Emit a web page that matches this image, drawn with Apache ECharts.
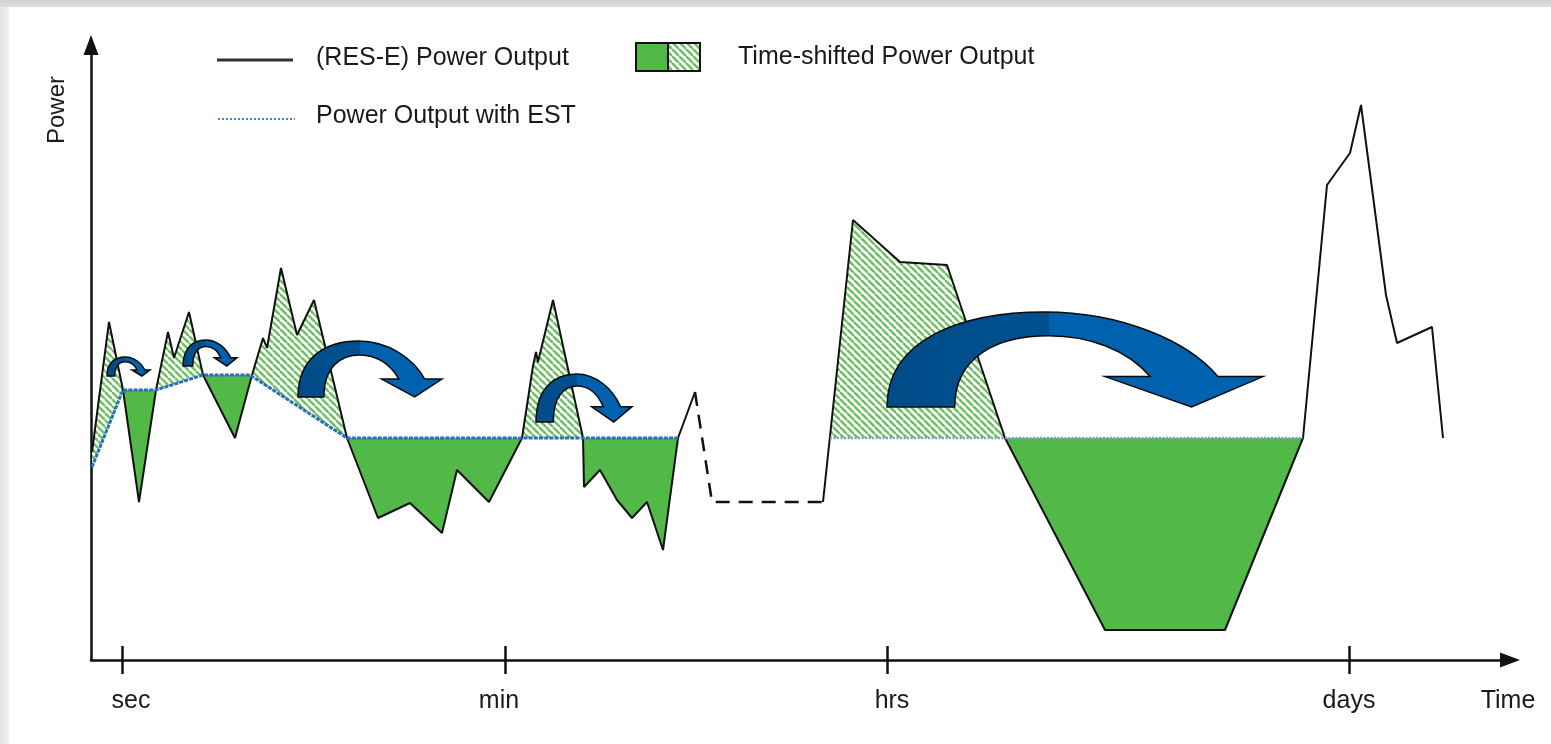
<!DOCTYPE html>
<html>
<head>
<meta charset="utf-8">
<script src="https://cdn.jsdelivr.net/npm/echarts@6/dist/echarts.min.js"></script>
<style>
html,body{margin:0;padding:0;background:#fff;}
#chart{width:1551px;height:744px;}
</style>
</head>
<body>
<div id="chart"></div>
<script>
// ---------- data (x = time units, y = power units) ----------
const resSolidA = [[1,208],[18,338],[32,270],[48,158],[65,270],[77,328],[83,302],[98,348],[112,285],[144,222],[161,285],[172,322],[176,312],[190,392],[206,325],[223,360],[256,222],[287,142],[319,157],[351,127],[366,190],[398,158],[431,222],[442,294],[445,308],[447,298],[462,360],[492,222],[493,173],[509,190],[526,160],[541,142],[556,158],[572,110],[587,222],[604,268]];
const resDashed = [[604,268],[621,158],[732,158]];
const resSolidC = [[732,158],[762,440],[809,398],[856,395],[914,222],[1014,30],[1134,30],[1212,222],[1236,475],[1259,507],[1270,555],[1295,365],[1306,317],[1341,333],[1352,222]];
const estPart1 = [[1,193],[32,270],[65,270],[112,285],[159,285],[256,222],[587,222]];
const estPart2 = [[739,222],[1212,222]];
// curved arrows: [xLeft, xRight, yBottom, yTop]
const arrowBoxes = [[16,59,284,303],[92,146,294,320],[207,351,263,319],[445,541,238,286],[796,1172,253,348]];
const tickValues = [31,414,796,1258];
const labelValues = [40,408,801,1258];
const labelNames = ['sec','min','hrs','days'];
const legendNames = ['(RES-E) Power Output','Power Output with EST','Time-shifted Power Output'];

// ---------- helpers ----------
const FONT = "'Liberation Sans', Arial, sans-serif";
const GREEN = '#52b848';
const pc = document.createElement('canvas'); pc.width = 7; pc.height = 7;
(function(){const g = pc.getContext('2d'); g.fillStyle = '#fff'; g.fillRect(0,0,7,7);
 g.strokeStyle = '#6cc062'; g.lineWidth = 2.4;
 [-7,0,7].forEach(o=>{g.beginPath(); g.moveTo(o,0); g.lineTo(o+7,7); g.stroke();});})();
const HATCH = {image: pc, repeat: 'repeat'};

const resAll = resSolidA.concat(resDashed.slice(1), resSolidC.slice(1));
function interp(pts, x){
  for (let i=0;i<pts.length-1;i++){const a=pts[i], b=pts[i+1];
    if (x>=a[0] && x<=b[0]) return b[0]===a[0] ? a[1] : a[1]+(b[1]-a[1])*(x-a[0])/(b[0]-a[0]);}
  return null;
}
function buildFills(black, est){
  const x0 = est[0][0], x1 = est[est.length-1][0];
  let xs = black.map(p=>p[0]).concat(est.map(p=>p[0])).filter(x=>x>=x0 && x<=x1);
  xs = Array.from(new Set(xs)).sort((a,b)=>a-b);
  const d = x => interp(black,x) - interp(est,x);
  const full = [xs[0]];
  for (let i=1;i<xs.length;i++){const xa=xs[i-1], xb=xs[i], da=d(xa), db=d(xb);
    if (da*db<0) full.push(xa+(xb-xa)*da/(da-db)); full.push(xb);}
  const runs = []; let cur = null;
  for (let i=0;i<full.length-1;i++){const xa=full[i], xb=full[i+1];
    const s = Math.sign(d((xa+xb)/2));
    if (s===0){cur=null; continue;}
    if (cur && cur.s===s) cur.xs.push(xb); else {cur={s:s, xs:[xa,xb]}; runs.push(cur);} }
  return runs.map(r=>({above: r.s>0,
    points: r.xs.map(x=>[x, interp(black,x)]).concat(r.xs.slice().reverse().map(x=>[x, interp(est,x)]))}));
}
const fills = buildFills(resAll, estPart1).concat(buildFills(resAll, estPart2));

// normalized curved arrow outline (u: 0..1 left->right, v: 0..1 bottom->top)
const arrowPath = [
  ['M',[0,0]],
  ['C',[0,0.72],[0.2,1.0],[0.42,1.0]],
  ['C',[0.62,1.0],[0.8,0.7],[0.88,0.32]],
  ['L',[1.0,0.32]],['L',[0.81,0]],['L',[0.58,0.32]],['L',[0.70,0.32]],
  ['C',[0.64,0.6],[0.54,0.75],[0.43,0.75]],
  ['C',[0.30,0.75],[0.18,0.55],[0.18,0]],
  ['Z']
];

const chart = echarts.init(document.getElementById('chart'), null, {renderer:'canvas'});
const option = {
  backgroundColor: '#fff',
  animation: false,
  grid: [
    {left: 91, right: 41, top: 45, bottom: 84},
    {left: 91, right: 41, top: 45, bottom: 84}
  ],
  xAxis: [
    {type:'value', gridIndex:0, min:0, max:1419,
     name:'Time', nameLocation:'end', nameGap:-2,
     nameTextStyle:{fontFamily:FONT, fontSize:25, color:'#1a1a1a', align:'center', verticalAlign:'top', padding:[29,0,0,0]},
     axisLine:{show:true, onZero:false, symbol:['none','triangle'], symbolSize:[15,20], lineStyle:{color:'#111', width:2.5}},
     axisTick:{show:false}, splitLine:{show:false},
     axisLabel:{show:true, customValues: labelValues, margin: 29, fontFamily:FONT, fontSize:25, color:'#1a1a1a',
       formatter: v => labelNames[labelValues.indexOf(v)] || ''}},
    {type:'value', gridIndex:1, min:0, max:1419, offset:-14,
     axisLine:{show:false, onZero:false}, splitLine:{show:false}, axisLabel:{show:false},
     axisTick:{show:true, customValues: tickValues, length:28, inside:false, lineStyle:{color:'#111', width:2.5}}}
  ],
  yAxis: [
    {type:'value', gridIndex:0, min:0, max:615,
     axisLine:{show:true, onZero:false, symbol:['none','triangle'], symbolSize:[15,20], lineStyle:{color:'#111', width:2.5}},
     axisTick:{show:false}, axisLabel:{show:false}, splitLine:{show:false}},
    {type:'value', gridIndex:1, min:0, max:615, show:false}
  ],
  graphic: [
    {type:'rect', shape:{x:0,y:0,width:1551,height:7}, style:{fill:{type:'linear',x:0,y:0,x2:0,y2:1,colorStops:[{offset:0,color:'#d2d2d2'},{offset:1,color:'#dcdcdc'}]}}, silent:true},
    {type:'rect', shape:{x:0,y:7,width:9,height:737}, style:{fill:{type:'linear',x:0,y:0,x2:1,y2:0,colorStops:[{offset:0,color:'#e4e4e4'},{offset:1,color:'#f0f0f0'}]}}, silent:true},
    {type:'line', shape:{x1:217,y1:60,x2:293,y2:60}, style:{stroke:'#333', lineWidth:3}},
    {type:'text', x:316, y:58, style:{text:legendNames[0], font:'25px '+FONT, fill:'#1a1a1a', verticalAlign:'middle'}},
    {type:'line', shape:{x1:218,y1:119,x2:295,y2:119}, style:{stroke:'#3f82d2', lineWidth:2, lineDash:[2,2]}},
    {type:'text', x:316, y:116, style:{text:legendNames[1], font:'25px '+FONT, fill:'#1a1a1a', verticalAlign:'middle'}},
    {type:'rect', shape:{x:636,y:43,width:32,height:28}, style:{fill:GREEN, stroke:'#111', lineWidth:2}},
    {type:'rect', shape:{x:668,y:43,width:32,height:28}, style:{fill:HATCH, stroke:'#111', lineWidth:2}},
    {type:'text', x:738, y:57, style:{text:legendNames[2], font:'25px '+FONT, fill:'#1a1a1a', verticalAlign:'middle'}},
    {type:'text', x:57, y:110, rotation:Math.PI/2, style:{text:'Power', font:'24px '+FONT, fill:'#1a1a1a', align:'center', verticalAlign:'middle'}}
  ],
  series: [
    {type:'custom', name:'Time-shifted Power Output', z:1, xAxisIndex:0, yAxisIndex:0,
     data: fills.map(f=>f.points[0]),
     renderItem: function(params, api){
       const f = fills[params.dataIndex];
       return {type:'polygon', shape:{points: f.points.map(p=>api.coord(p))},
               style:{fill: f.above ? HATCH : GREEN, stroke:'none'}};
     }},
    {type:'line', name:legendNames[0], z:3, data:resSolidA, showSymbol:false, lineStyle:{color:'#111', width:2}},
    {type:'line', name:legendNames[0]+' (gap)', z:3, data:resDashed, showSymbol:false, lineStyle:{color:'#111', width:2.5, type:[14,9]}},
    {type:'line', name:legendNames[0]+' ', z:3, data:resSolidC, showSymbol:false, lineStyle:{color:'#111', width:2}},
    {type:'line', name:legendNames[1], z:4, data:estPart1, showSymbol:false, lineStyle:{color:'#2a6fbe', width:3, type:[4,1.2]}},
    {type:'line', name:legendNames[1]+' ', z:4, data:estPart2, showSymbol:false, lineStyle:{color:'#7a9fd8', width:2.5, type:[2,1.5]}},
    {type:'custom', name:'arrows', z:5, xAxisIndex:0, yAxisIndex:0,
     data: arrowBoxes.map(b=>[b[0],b[2]]),
     renderItem: function(params, api){
       const b = arrowBoxes[params.dataIndex];
       const P = q => { const c = api.coord([b[0]+q[0]*(b[1]-b[0]), b[2]+q[1]*(b[3]-b[2])]); return c[0].toFixed(2)+' '+c[1].toFixed(2); };
       let d = '';
       arrowPath.forEach(seg=>{ d += seg[0]; for (let i=1;i<seg.length;i++) d += ' '+P(seg[i]); d += ' '; });
       return {type:'path', shape:{pathData:d},
         style:{fill:{type:'linear', x:0, y:0, x2:1, y2:0, global:false,
                colorStops:[{offset:0,color:'#004c89'},{offset:0.43,color:'#004f8e'},{offset:0.43,color:'#0062ae'},{offset:1,color:'#0062ae'}]},
                stroke:'#0a0a0a', lineWidth:1.5}};
     }}
  ]
};
chart.setOption(option);
</script>
</body>
</html>
